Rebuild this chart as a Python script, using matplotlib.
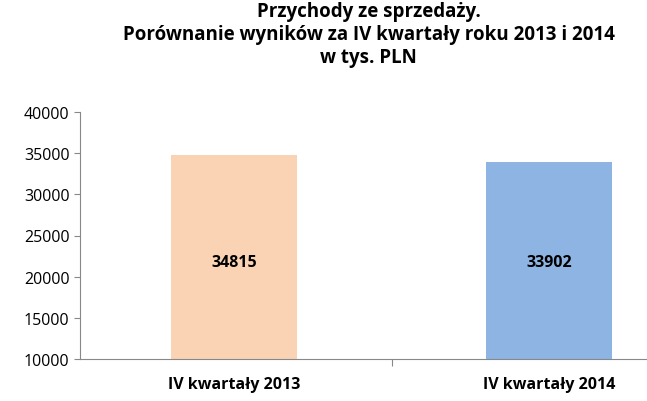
import matplotlib
matplotlib.use("Agg")
import matplotlib.pyplot as plt

categories = ["IV kwartały 2013", "IV kwartały 2014"]
values = [34815, 33902]
colors = ["#FAD3B4", "#8EB4E3"]
yticks = [10000, 15000, 20000, 25000, 30000, 35000, 40000]

plt.rcParams['font.family'] = ['Open Sans', 'DejaVu Sans']
fig = plt.figure(figsize=(6.47, 4.02), dpi=100)
ax = fig.add_axes([80/647, 1-360/402, (647-80)/647, (360-113)/402])
x = [0, 1]
ax.bar(x, values, width=0.4, color=colors)
ax.set_ylim(10000, 40000)
ax.set_xlim(-0.49, 1.31)
ax.set_yticks(yticks)
ax.set_yticklabels([str(t) for t in yticks], fontsize=11.5)
ax.set_xticks([0.5], minor=False)
ax.set_xticklabels([""])
ax.tick_params(axis='x', length=5, color='#888888')
ax.tick_params(axis='y', length=4, color='#888888')
for xi, c in zip(x, categories):
    ax.text(xi, -0.07, c, transform=ax.get_xaxis_transform(), ha='center', va='top',
            fontsize=11.5, fontweight='bold')
for xi, v in zip(x, values):
    ax.text(xi, 21800, str(v), ha='center', va='center', fontsize=11.5, fontweight='bold')
for s in ['top', 'right']:
    ax.spines[s].set_visible(False)
for s in ['left', 'bottom']:
    ax.spines[s].set_color('#888888')
fig.text(0.57, 0.995, "Przychody ze sprzedaży.\nPorównanie wyników za IV kwartały roku 2013 i 2014\nw tys. PLN",
         ha='center', va='top', fontsize=13.5, fontweight='bold', linespacing=1.2)
fig.savefig("out.png", dpi=100)
